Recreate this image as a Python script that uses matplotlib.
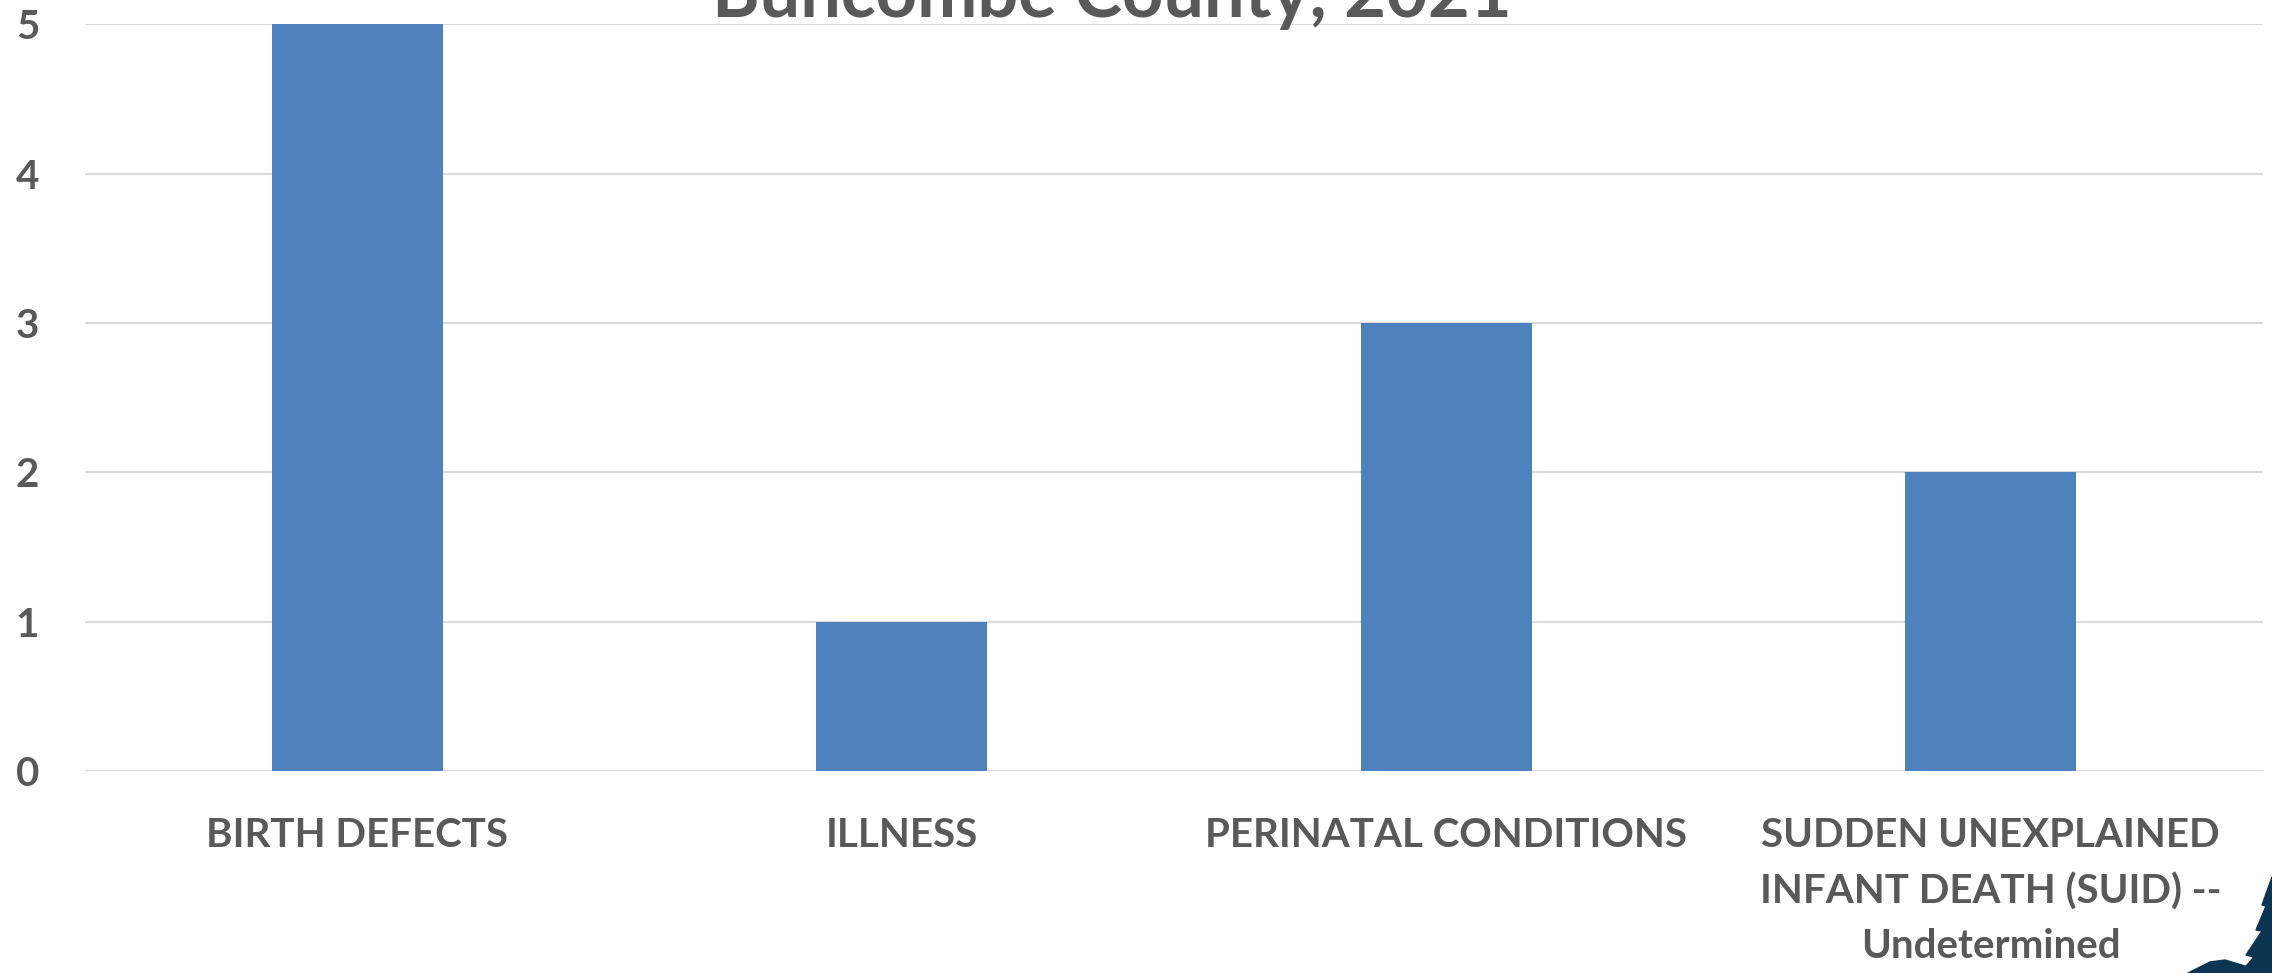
"""
Infant deaths by cause, Buncombe County 2021 - column chart.
"""

import numpy as np
import matplotlib
matplotlib.use('Agg')
import matplotlib.pyplot as plt
from matplotlib.patches import Polygon

# data
causes = ['BIRTH DEFECTS', 'ILLNESS', 'PERINATAL CONDITIONS',
          'SUDDEN UNEXPLAINED\nINFANT DEATH (SUID) --\nUndetermined']
deaths = [5, 1, 3, 2]
yticks = [0, 1, 2, 3, 4, 5]
title = 'Buncombe County, 2021'

W, H, DPI = 2272, 973, 100
grey = '#595959'
blue = '#4f81bd'
font = 'Lato'

fig = plt.figure(figsize=(W/DPI, H/DPI), dpi=DPI)
ax = fig.add_axes([85/W, (H-771)/H, (2263-85)/W, (771-24.3)/H])

x = np.arange(len(causes))
ax.bar(x, deaths, width=0.314, color=blue, zorder=3)

ax.set_xlim(-0.5, len(causes)-0.5)
ax.set_ylim(0, 5)
ax.set_yticks(yticks)
ax.set_yticklabels([str(t) for t in yticks], fontsize=29, fontweight='bold',
                   color=grey, family=font)
ax.set_xticks(x)
ax.set_xticklabels(causes, fontsize=29, fontweight='bold', color=grey,
                   family=font, linespacing=1.6, va='top')
ax.tick_params(axis='both', length=0)
ax.tick_params(axis='y', pad=33)   # points, not pixels
ax.tick_params(axis='x', pad=33)

ax.grid(axis='y', color='#d9d9d9', lw=1.5, zorder=0)
for s in ax.spines.values():
    s.set_visible(False)

# title is clipped at the top in the original
fig.text(1112/W, 1-17/H, title, ha='center', va='baseline', fontsize=52,
         fontweight='bold', color=grey, family=font)

# bit of logo poking in at bottom right
tree = [(2272, 877), (2262, 905), (2266, 906), (2256, 930), (2262, 931),
        (2246, 955), (2254, 957), (2240, 973), (2272, 973)]
mound = [(2188, 973), (2210, 962), (2225, 960), (2245, 966), (2250, 973)]
for pts in (tree, mound):
    fig.patches.append(Polygon([(px/W, 1-py/H) for px, py in pts], closed=True,
                               transform=fig.transFigure, color='#0b3550'))

fig.savefig('out.png', dpi=DPI)
